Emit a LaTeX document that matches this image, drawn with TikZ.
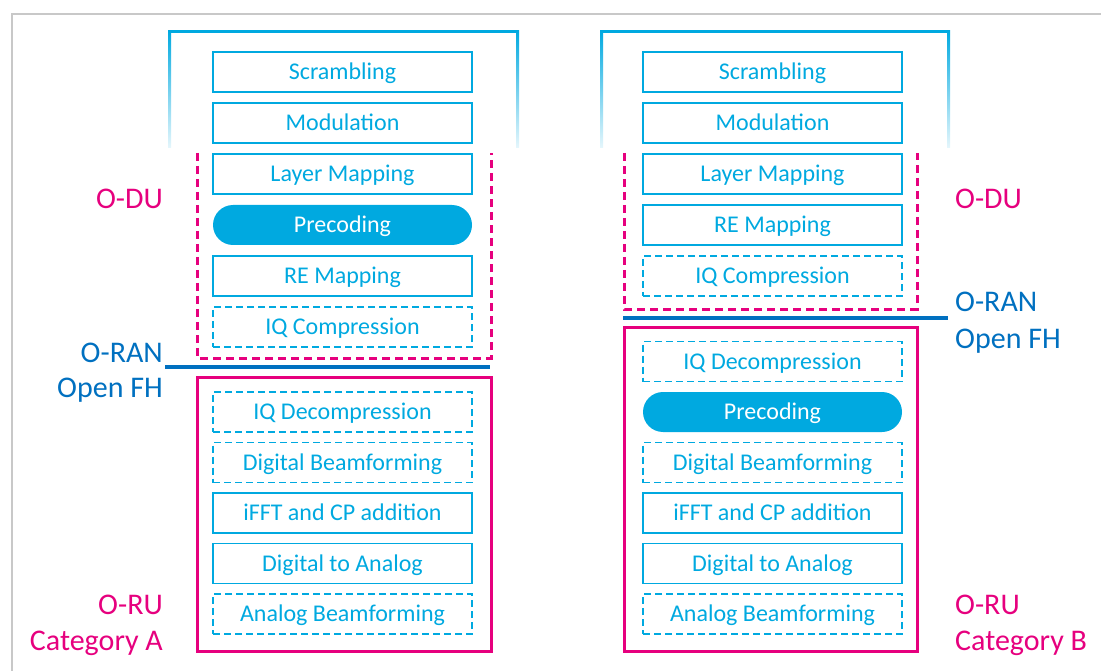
\documentclass[tikz,border=0pt]{standalone}
\usepackage{fontspec}
\setmainfont{Carlito}
\usepackage{tikz}
\usetikzlibrary{positioning}

\definecolor{odublue}{HTML}{00A9E0}
\definecolor{oranpink}{HTML}{E6007E}
\definecolor{fhblue}{HTML}{0070C0}
\definecolor{framegrey}{HTML}{C8C8C8}

\begin{document}
\begin{tikzpicture}[x=1pt, y=-1pt,
    stage/.style={draw=odublue, line width=1.8pt, text=odublue, minimum width=259pt,
      minimum height=40pt, inner sep=0pt, text height=20pt, text depth=5pt,
      font=\fontsize{24}{28}\selectfont},
    optstage/.style={stage, line width=1.4pt, dash pattern=on 7pt off 4pt},
    keystage/.style={stage, draw=none, fill=odublue, text=white, rounded corners=20pt},
    lbl/.style={inner sep=0pt, font=\fontsize{30}{36}\selectfont},
    dubox/.style={oranpink, line width=3pt, dash pattern=on 8pt off 5pt},
    rubox/.style={oranpink, line width=3pt},
    fhline/.style={fhblue, line width=3.5pt}]
    \useasboundingbox (0,0) rectangle (1101,671);

    % Frame
    \draw[framegrey, line width=1.5pt] (12,671) -- (12,14) -- (1101,14);

    % Category A
    \fill[odublue] (168,30.5) rectangle (519,33.5);
    \shade[top color=odublue, bottom color=odublue!10] (168,30.5) rectangle (171,148);
    \shade[top color=odublue, bottom color=odublue!10] (516,30.5) rectangle (519,148);
    \draw[dubox] (197,153) -- (197,358) -- (491,358) -- (491,153);
    \draw[rubox] (197,377) rectangle (491,651);
    \draw[fhline] (165,367) -- (490,367);

    \node[stage] (scrA) at (342.5,72) {Scrambling};
    \node[stage] (modA) at (342.5,123) {Modulation};
    \node[stage] (layA) at (342.5,174) {Layer Mapping};
    \node[keystage] (preA) at (342.5,225) {Precoding};
    \node[stage] (reA) at (342.5,276) {RE Mapping};
    \node[optstage] (iqcA) at (342.5,327) {IQ Compression};
    \node[optstage] (iqdA) at (342.5,412) {IQ Decompression};
    \node[optstage] (dbfA) at (342.5,462.5) {Digital Beamforming};
    \node[stage] (fftA) at (342.5,513) {iFFT and CP addition};
    \node[stage] (dacA) at (342.5,563.5) {Digital to Analog};
    \node[optstage] (abfA) at (342.5,614) {Analog Beamforming};

    \node[lbl, text=oranpink, anchor=base east] (duA) at (163,209) {O-DU};
    \node[lbl, text=fhblue, anchor=base east] (oranA) at (163,362) {O-RAN};
    \node[lbl, text=fhblue, anchor=base east] (fhA) at (163,397) {Open FH};
    \node[lbl, text=oranpink, anchor=base east] (ruA) at (163,614) {O-RU};
    \node[lbl, text=oranpink, anchor=base east] (catA) at (163,650) {Category A};

    % Category B
    \fill[odublue] (600,30.5) rectangle (950,33.5);
    \shade[top color=odublue, bottom color=odublue!10] (600,30.5) rectangle (603,148);
    \shade[top color=odublue, bottom color=odublue!10] (947,30.5) rectangle (950,148);
    \draw[dubox] (624,153) -- (624,309) -- (917,309) -- (917,153);
    \draw[rubox] (624,327) rectangle (917,651);
    \draw[fhline] (623,318) -- (948,318);

    \node[stage] (scrB) at (772.5,72) {Scrambling};
    \node[stage] (modB) at (772.5,123) {Modulation};
    \node[stage] (layB) at (772.5,174) {Layer Mapping};
    \node[stage] (reB) at (772.5,225) {RE Mapping};
    \node[optstage] (iqcB) at (772.5,276) {IQ Compression};
    \node[optstage] (iqdB) at (772.5,361.5) {IQ Decompression};
    \node[keystage] (preB) at (772.5,412) {Precoding};
    \node[optstage] (dbfB) at (772.5,462.5) {Digital Beamforming};
    \node[stage] (fftB) at (772.5,513) {iFFT and CP addition};
    \node[stage] (dacB) at (772.5,563.5) {Digital to Analog};
    \node[optstage] (abfB) at (772.5,614) {Analog Beamforming};

    \node[lbl, text=oranpink, anchor=base west] (duB) at (955,209) {O-DU};
    \node[lbl, text=fhblue, anchor=base west] (oranB) at (955,312) {O-RAN};
    \node[lbl, text=fhblue, anchor=base west] (fhB) at (955,348) {Open FH};
    \node[lbl, text=oranpink, anchor=base west] (ruB) at (955,614) {O-RU};
    \node[lbl, text=oranpink, anchor=base west] (catB) at (955,650) {Category B};
\end{tikzpicture}
\end{document}
